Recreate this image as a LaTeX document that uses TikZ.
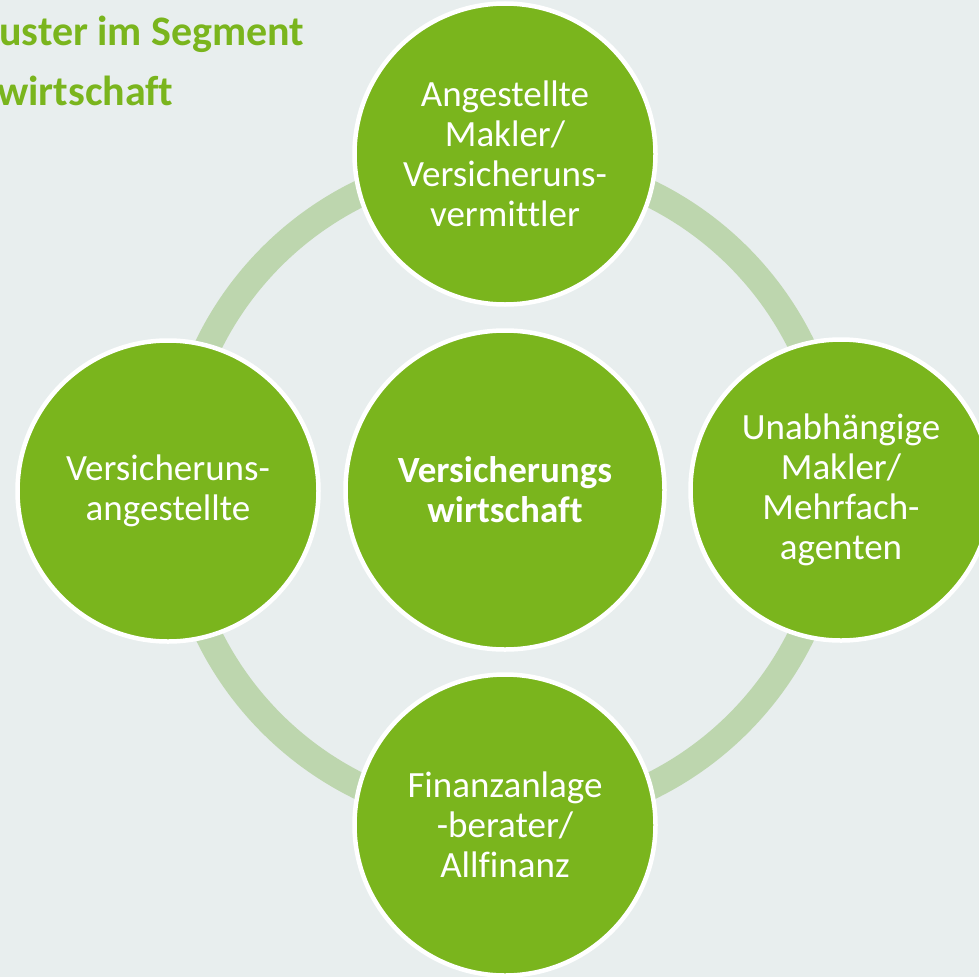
\documentclass[tikz,border=0pt]{standalone}
\usepackage{fontspec}
\setmainfont[RawFeature=-liga]{Carlito}
\definecolor{bgcol}{RGB}{232,238,238}
\definecolor{leaf}{RGB}{122,181,29}
\definecolor{ringcol}{RGB}{189,214,174}
\begin{document}
\begin{tikzpicture}[x=1pt,y=-1pt,
  bubble/.style={circle,fill=leaf,draw=white,line width=4.5pt,inner sep=0pt,
    minimum size=301pt,text=white,align=center,
    font=\fontsize{37}{40}\selectfont},
  hub/.style={bubble,minimum size=319pt},
  ringline/.style={draw=ringcol,line width=27pt},
  titletext/.style={anchor=base west,inner sep=0pt,text=leaf,
    font=\fontsize{42}{42}\selectfont\bfseries}]
\fill[bgcol] (0,0) rectangle (979,977);
\useasboundingbox (0,0) rectangle (979,977);
\coordinate (o) at (505,490);
\draw[ringline] (o) circle[radius=330];
\node[titletext] (t1) at (-1,45) {uster im Segment};
\node[titletext] (t2) at (-3,105) {wirtschaft};
\node[hub] (hubn) at (o) {\bfseries Versicherungs\\\bfseries wirtschaft};
\node[bubble] (top) at (505,154) {Angestellte\\Makler/\\Versicheruns-\\vermittler};
\node[bubble] (right) at (841,490) {Unabhängige\\Makler/\\Mehrfach-\\agenten};
\node[bubble] (left) at (168,491) {Versicheruns-\\angestellte};
\node[bubble] (bottom) at (505,825) {Finanzanlage\\-berater/\\Allfinanz};
\end{tikzpicture}
\end{document}
